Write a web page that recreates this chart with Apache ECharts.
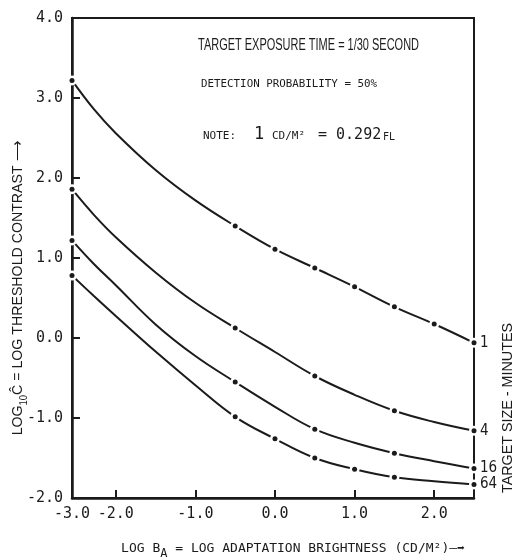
<!DOCTYPE html>
<html><head><meta charset="utf-8">
<script src="https://cdn.jsdelivr.net/npm/echarts@6/dist/echarts.min.js"></script>
<style>html,body{margin:0;padding:0;background:#fff}#c{width:519px;height:560px}</style>
</head><body><div id="c"></div><script>
// ---- data (log adaptation brightness vs log threshold contrast) ----
const xValues = [-3, -2.5, -2, -1.5, -1, -0.5, 0, 0.5, 1, 1.5, 2, 2.5];
const size1  = [3.22, 2.86, 2.56, 2.10, 1.72, 1.40, 1.11, 0.875, 0.64, 0.39, 0.175, -0.06];
const size4  = [1.86, 1.54, 1.26, 0.82, 0.44, 0.125, -0.175, -0.475, -0.71, -0.91, -1.05, -1.16];
const size16 = [1.22, 0.925, 0.66, 0.17, -0.225, -0.55, -0.86, -1.14, -1.31, -1.44, -1.54, -1.63];
const size64 = [0.78, 0.525, 0.275, -0.17, -0.59, -0.985, -1.26, -1.5, -1.64, -1.74, -1.79, -1.83];
// x positions that carry a plotted dot
const dots1  = [-3, -0.5, 0, 0.5, 1, 1.5, 2, 2.5];
const dots4  = [-3, -0.5, 0.5, 1.5, 2.5];
const dots16 = [-3, -0.5, 0.5, 1.5, 2.5];
const dots64 = [-3, -0.5, 0, 0.5, 1, 1.5, 2.5];
const sizeNames = ['1', '4', '16', '64'];
const xTickLabels = [-3, -2, -1, 0, 1, 2];
const xTicks = [-2, -1, 0, 1, 2];

// broken x scale: the -3..-2 section is compressed
const K = 0.55;
function U(x) { return x >= -2 ? x : -2 + (x + 2) * K; }
function Uinv(u) { return u >= -2 ? u : -2 + (u + 2) / K; }

const INK = '#1b1b1b';
const curves = [[size1, dots1], [size4, dots4], [size16, dots16], [size64, dots64]];
const series = [];
curves.forEach(([vals, dots], k) => {
  const name = sizeNames[k];
  series.push({
    type: 'line', name, smooth: 0.4, symbol: 'none', showSymbol: false, z: 2,
    data: xValues.map((x, i) => [U(x), vals[i]]),
    lineStyle: { color: INK, width: 2 },
    endLabel: { show: true, formatter: name, distance: 6, color: INK, fontSize: 15,
      fontFamily: "'Liberation Sans Narrow','DejaVu Sans Condensed','Liberation Sans',sans-serif" }
  });
  const pts = dots.map(x => [U(x), vals[xValues.indexOf(x)]]);
  series.push({ type: 'scatter', data: pts, symbolSize: 10, z: 3, silent: true,
    itemStyle: { color: '#fff', opacity: 1 } });
  series.push({ type: 'scatter', data: pts, symbolSize: 5, z: 4, silent: true,
    itemStyle: { color: INK, opacity: 1 } });
});

const ctx = document.createElement('canvas').getContext('2d');
function fit(text, font, width) { ctx.font = font; return width / ctx.measureText(text).width; }

const MONO = "'DejaVu Sans Mono', monospace";
const SANS = "'Liberation Sans', Arial, sans-serif";
const t1 = 'TARGET EXPOSURE TIME = 1/30 SECOND';
const t2 = 'DETECTION PROBABILITY = 50%';
const t3 = 'TARGET SIZE - MINUTES';

const graphic = [
  { type: 'text', x: 198, y: 46, scaleX: fit(t1, "16px 'Liberation Sans'", 221),
    style: { text: t1, fontSize: 16, fontFamily: SANS, fill: INK, verticalAlign: 'middle' } },
  { type: 'text', x: 201, y: 84, scaleX: fit(t2, "11px 'DejaVu Sans Mono'", 176),
    style: { text: t2, fontSize: 11, fontFamily: MONO, fill: INK, verticalAlign: 'middle' } },
  { type: 'text', x: 203, y: 136, style: { text: 'NOTE:', fontSize: 11, fontFamily: MONO, fill: INK, verticalAlign: 'middle' } },
  { type: 'text', x: 254, y: 135, style: { text: '1', fontSize: 17, fontFamily: MONO, fill: INK, verticalAlign: 'middle' } },
  { type: 'text', x: 272, y: 136, style: { text: 'CD/M²', fontSize: 11, fontFamily: MONO, fill: INK, verticalAlign: 'middle' } },
  { type: 'text', x: 318, y: 135, style: { text: '= 0.292', fontSize: 15, fontFamily: MONO, fill: INK, verticalAlign: 'middle' } },
  { type: 'text', x: 383, y: 137, style: { text: 'FL', fontSize: 10, fontFamily: MONO, fill: INK, verticalAlign: 'middle' } },
  { type: 'text', x: 508, y: 408, rotation: Math.PI / 2, scaleX: fit(t3, "15px 'Liberation Sans'", 170),
    style: { text: t3, fontSize: 15, fontFamily: SANS, fill: INK, align: 'center', verticalAlign: 'middle' } },
  { type: 'text', x: 18, y: 288, rotation: Math.PI / 2,
    scaleX: fit('LOG10Ĉ = LOG THRESHOLD CONTRAST ⟶', "15px 'Liberation Sans'", 300),
    style: { text: '{a|LOG}{s|10}{a|Ĉ = LOG THRESHOLD CONTRAST ⟶}', fill: INK, align: 'center', verticalAlign: 'middle',
      rich: { a: { fontSize: 15, fontFamily: SANS, lineHeight: 16, verticalAlign: 'middle' },
              s: { fontSize: 10, fontFamily: SANS, lineHeight: 22, verticalAlign: 'bottom' } } } },
  { type: 'text', x: 293, y: 549,
    style: { text: '{a|LOG B}{s|A}{a| = LOG ADAPTATION BRIGHTNESS (CD/M²)—➡}', fill: INK, align: 'center', verticalAlign: 'middle',
      rich: { a: { fontSize: 13, fontFamily: MONO, lineHeight: 14, verticalAlign: 'middle' },
              s: { fontSize: 12, fontFamily: MONO, lineHeight: 22, verticalAlign: 'bottom' } } } }
];

const chart = echarts.init(document.getElementById('c'), null, { renderer: 'canvas' });
chart.setOption({
  animation: false,
  backgroundColor: '#fff',
  grid: { left: 72, right: 45, top: 18, bottom: 62, show: true, borderColor: INK, borderWidth: 2, backgroundColor: 'transparent' },
  xAxis: {
    type: 'value', min: U(-3), max: 2.5,
    axisLine: { show: true, onZero: false, lineStyle: { color: INK, width: 2.5 } },
    axisTick: { show: true, inside: true, length: 8, lineStyle: { color: INK, width: 2 }, customValues: xTicks },
    axisLabel: { show: true, customValues: xTickLabels.map(U), margin: 9, color: INK, fontSize: 15, fontFamily: MONO,
      formatter: v => Uinv(v).toFixed(1) },
    splitLine: { show: false }
  },
  yAxis: {
    type: 'value', min: -2, max: 4, interval: 1,
    axisLine: { show: true, onZero: false, lineStyle: { color: INK, width: 2.5 } },
    axisTick: { show: true, inside: true, length: 8, lineStyle: { color: INK, width: 2 } },
    axisLabel: { margin: 9, color: INK, fontSize: 15, fontFamily: MONO, formatter: v => v.toFixed(1) },
    splitLine: { show: false }
  },
  graphic,
  series
});
</script></body></html>
